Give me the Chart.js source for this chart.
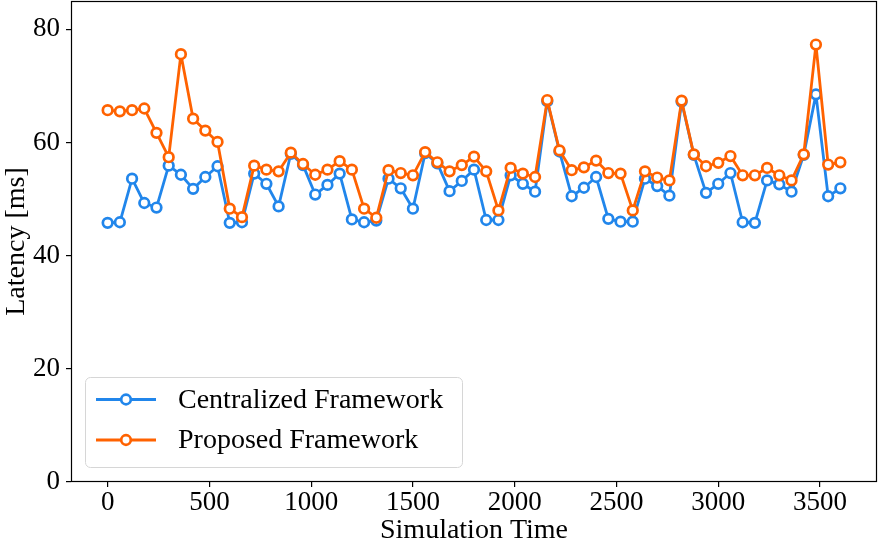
<!DOCTYPE html>
<html>
<head>
<meta charset="utf-8">
<title>Latency</title>
<script src="https://cdn.jsdelivr.net/npm/chart.js@4.4.1/dist/chart.umd.min.js"></script>
<style>
  html, body { margin: 0; padding: 0; background: #fff; }
  #wrap { width: 879px; height: 545px; position: relative; }
</style>
</head>
<body>
<div id="wrap"><canvas id="myChart"></canvas></div>
<script>
// simulation time steps
var times = [0, 60, 120, 180, 240, 300, 360, 420, 480, 540, 600, 660, 720, 780, 840, 900, 960, 1020, 1080, 1140,
  1200, 1260, 1320, 1380, 1440, 1500, 1560, 1620, 1680, 1740, 1800, 1860, 1920, 1980, 2040, 2100, 2160, 2220, 2280, 2340,
  2400, 2460, 2520, 2580, 2640, 2700, 2760, 2820, 2880, 2940, 3000, 3060, 3120, 3180, 3240, 3300, 3360, 3420, 3480, 3540, 3600];

var centralized = [45.8, 45.9, 53.6, 49.3, 48.5, 55.9, 54.3, 51.8, 53.9, 55.8,
  45.8, 45.9, 54.5, 52.7, 48.7, 58.0, 56.0, 50.8, 52.5, 54.5,
  46.4, 45.9, 46.2, 53.6, 51.9, 48.3, 58.1, 56.3, 51.4, 53.2,
  55.2, 46.3, 46.3, 54.2, 52.7, 51.3, 67.3, 58.4, 50.5, 52.0,
  53.9, 46.5, 46.0, 46.0, 53.6, 52.3, 50.6, 67.2, 57.8, 51.1,
  52.7, 54.6, 45.9, 45.8, 53.3, 52.6, 51.3, 57.8, 68.5, 50.5, 51.9];

var proposed = [65.7, 65.5, 65.7, 66.0, 61.7, 57.4, 75.6, 64.2, 62.1, 60.1,
  48.3, 46.8, 55.9, 55.2, 54.9, 58.2, 56.2, 54.3, 55.2, 56.7,
  55.2, 48.3, 46.7, 55.1, 54.6, 54.2, 58.3, 56.5, 54.9, 56.0,
  57.5, 54.9, 48.0, 55.5, 54.5, 53.9, 67.5, 58.6, 55.1, 55.6,
  56.8, 54.6, 54.5, 48.0, 54.9, 53.8, 53.3, 67.4, 57.9, 55.8,
  56.4, 57.6, 54.2, 54.2, 55.5, 54.2, 53.3, 57.9, 77.3, 56.1, 56.5];

var xTicks = [0, 500, 1000, 1500, 2000, 2500, 3000, 3500];
var yTicks = [0, 20, 40, 60, 80];

var seriesNames = ['Centralized Framework', 'Proposed Framework'];
var blue = '#2186eb';
var orange = '#ff6200';
var serif = '"Liberation Serif", "DejaVu Serif", serif';

function pts(vals) {
  var out = [];
  for (var i = 0; i < vals.length; i++) {
    out.push({x: times[i], y: vals[i]});
  }
  return out;
}

function noPad(s) {
  s.paddingTop = 0; s.paddingBottom = 0; s.paddingLeft = 0; s.paddingRight = 0;
}

// matplotlib style box around the axes
var framePlugin = {
  id: 'frame',
  afterDatasetsDraw: function(chart) {
    var a = chart.chartArea, c = chart.ctx;
    c.save();
    c.strokeStyle = '#000';
    c.lineWidth = 1.2;
    c.strokeRect(a.left + 0.5, a.top + 0.5, a.right - a.left - 1, a.bottom - a.top - 1);
    c.restore();
  }
};

// legend box in the lower left corner
var legendPlugin = {
  id: 'boxLegend',
  afterDraw: function(chart) {
    var c = chart.ctx;
    var x0 = 85.5, y0 = 377.5, w = 377, h = 90, r = 5;
    c.save();
    c.beginPath();
    c.moveTo(x0 + r, y0);
    c.arcTo(x0 + w, y0, x0 + w, y0 + h, r);
    c.arcTo(x0 + w, y0 + h, x0, y0 + h, r);
    c.arcTo(x0, y0 + h, x0, y0, r);
    c.arcTo(x0, y0, x0 + w, y0, r);
    c.closePath();
    c.fillStyle = 'rgba(255,255,255,0.8)';
    c.fill();
    c.strokeStyle = '#d6d6d6';
    c.lineWidth = 1;
    c.stroke();

    var order = [1, 0]; // datasets are stored proposed first
    for (var k = 0; k < order.length; k++) {
      var ds = chart.data.datasets[order[k]];
      var yy = 399.5 + k * 40.5;
      c.strokeStyle = ds.borderColor;
      c.lineWidth = 2.8;
      c.beginPath();
      c.moveTo(96, yy);
      c.lineTo(156, yy);
      c.stroke();
      c.beginPath();
      c.arc(126, yy, 4.8, 0, Math.PI * 2);
      c.fillStyle = '#fff';
      c.fill();
      c.lineWidth = 2.7;
      c.stroke();
      c.fillStyle = '#000';
      c.font = '28px ' + serif;
      c.textBaseline = 'middle';
      c.textAlign = 'left';
      c.fillText(ds.label, 178, yy + 1);
    }
    c.restore();
  }
};

var ctx = document.getElementById('myChart').getContext('2d');
var myChart = new Chart(ctx, {
  type: 'line',
  data: {
    datasets: [{
      label: seriesNames[1],
      data: pts(proposed),
      borderColor: orange,
      backgroundColor: '#fff',
      pointBackgroundColor: '#fff',
      pointBorderColor: orange,
      borderWidth: 2.8,
      borderJoinStyle: 'round',
      pointRadius: 4.8,
      pointBorderWidth: 2.7,
      fill: false,
      tension: 0,
      order: 0
    }, {
      label: seriesNames[0],
      data: pts(centralized),
      borderColor: blue,
      backgroundColor: '#fff',
      pointBackgroundColor: '#fff',
      pointBorderColor: blue,
      borderWidth: 2.8,
      borderJoinStyle: 'round',
      pointRadius: 4.8,
      pointBorderWidth: 2.7,
      fill: false,
      tension: 0,
      order: 1
    }]
  },
  options: {
    responsive: true,
    maintainAspectRatio: false,
    devicePixelRatio: 1,
    animation: false,
    events: [],
    layout: { autoPadding: false, padding: { top: 1, right: 2, left: 0, bottom: 0 } },
    plugins: {
      legend: { display: false },
      tooltip: { enabled: false }
    },
    scales: {
      x: {
        type: 'linear',
        min: -180,
        max: 3780,
        afterBuildTicks: function(s) { s.ticks = xTicks.map(function(v) { return {value: v}; }); },
        afterFit: function(s) { s.height = 63; noPad(s); },
        border: { display: false },
        grid: { drawOnChartArea: false, drawTicks: true, tickLength: 5, color: '#000', lineWidth: 1.2 },
        ticks: { color: '#000', padding: 0, maxRotation: 0, autoSkip: false,
          callback: function(v) { return String(v); },
          font: { family: serif, size: 27 } },
        title: { display: true, text: 'Simulation Time', color: '#000', padding: { top: 0, bottom: 0 },
          font: { family: serif, size: 28, lineHeight: 1 } }
      },
      y: {
        min: 0,
        max: 85,
        afterBuildTicks: function(s) { s.ticks = yTicks.map(function(v) { return {value: v}; }); },
        afterFit: function(s) { s.width = 71; noPad(s); },
        border: { display: false },
        grid: { drawOnChartArea: false, drawTicks: true, tickLength: 5, color: '#000', lineWidth: 1.2 },
        ticks: { color: '#000', padding: 6, callback: function(v) { return String(v); },
          font: { family: serif, size: 27 } },
        title: { display: true, text: 'Latency [ms]', color: '#000', padding: { top: 3, bottom: 0 },
          font: { family: serif, size: 28, lineHeight: 1 } }
      }
    }
  },
  plugins: [framePlugin, legendPlugin]
});
</script>
</body>
</html>
